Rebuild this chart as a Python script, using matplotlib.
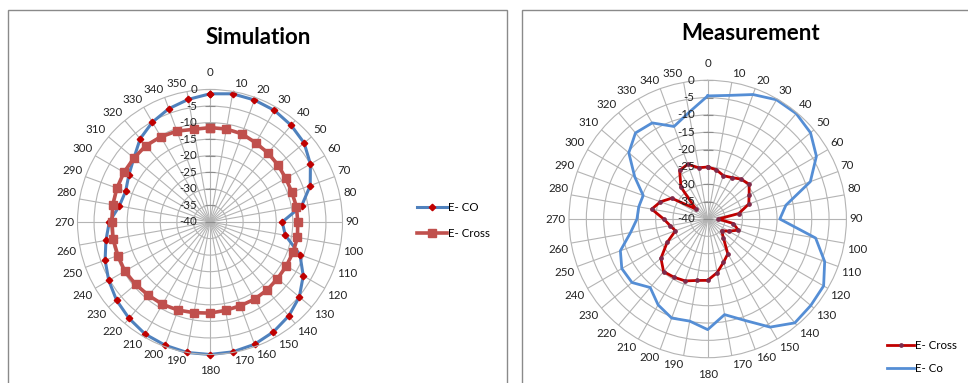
#!/usr/bin/env python3
"""Radiation patterns: simulation vs measurement (Excel-style radar charts)."""

import numpy as np
import matplotlib
matplotlib.use('Agg')
import matplotlib.pyplot as plt
from matplotlib.patches import Rectangle

plt.rcParams['font.family'] = ['Lato', 'DejaVu Sans']

# ---- data (dB), angles in degrees, clockwise from top ----
angles = np.arange(0, 360, 10)
ring_levels = [-40, -35, -30, -25, -20, -15, -10, -5, 0]

sim_e_co = [-1.3, -0.7, -0.8, -1.1, -1.9, -2.9, -5.0, -7.8, -11.9, -18.2,
            -16.9, -11.1, -7.5, -4.8, -3.0, -1.7, -0.7, -0.2, 0.0, 0.0,
            -0.4, -0.9, -2.0, -3.2, -4.7, -6.3, -8.1, -9.6, -12.2, -12.9,
            -11.7, -10.0, -7.2, -5.2, -3.6, -2.4]
sim_e_cross = [-11.5, -11.5, -11.7, -12.4, -12.8, -13.2, -13.6, -13.7, -13.5, -13.5,
               -13.2, -13.3, -13.4, -13.4, -13.2, -13.1, -13.1, -12.9, -12.5, -12.2,
               -11.7, -11.3, -11.1, -10.7, -10.3, -10.4, -10.3, -10.4, -10.2, -10.1,
               -10.0, -10.0, -9.9, -10.3, -10.8, -11.6]

meas_e_cross = [-25.0, -25.6, -26.7, -26.2, -25.0, -24.4, -26.2, -27.4, -30.9, -36.9,
                -32.5, -30.6, -33.0, -34.7, -33.0, -28.4, -26.7, -24.3, -22.3, -22.0,
                -21.0, -20.6, -20.2, -22.4, -26.5, -30.1, -29.0, -27.3, -23.6, -25.5,
                -28.0, -35.5, -28.0, -23.8, -23.2, -25.0]
meas_e_co = [-4.5, -3.8, -1.8, -0.3, -0.3, -1.3, -3.8, -8.5, -17.1, -19.2,
             -8.4, -4.1, -1.4, -1.2, -0.9, -4.0, -8.9, -12.0, -8.1, -10.1,
             -9.6, -11.4, -14.2, -11.5, -11.4, -13.2, -17.4, -19.6, -19.8, -20.2,
             -15.7, -10.3, -7.6, -8.0, -11.6, -8.8]

W, H = 968, 383
GRID = '#B4B4B4'
PT = 72 / 100  # points per pixel at dpi 100


def radar_axes(fig, cx, cy, R):
    ax = fig.add_axes([(cx - R) / W, (H - cy - R) / H, 2 * R / W, 2 * R / H],
                      projection='polar')
    ax.set_theta_zero_location('N')
    ax.set_theta_direction(-1)
    ax.set_ylim(ring_levels[0], ring_levels[-1])
    ax.set_yticks(ring_levels[1:-1])
    ax.set_xticks(np.deg2rad(angles))
    ax.set_xticklabels([])
    ax.set_yticklabels([])
    ax.grid(True, color=GRID, lw=0.8)
    ax.spines['polar'].set_color(GRID)
    ax.spines['polar'].set_linewidth(0.8)
    ax.patch.set_alpha(0)

    # value axis along the 0 deg spoke
    for v in ring_levels:
        ax.plot([0], [v], marker='_', ms=7, mew=0.8, color='#8C8C8C', clip_on=False)
        ax.annotate(str(v), xy=(0, v), xytext=(-13 * PT, 0), textcoords='offset points',
                    ha='right', va='center', fontsize=8.3, color='#222222')

    # category labels around the outside
    for a in angles:
        t = np.deg2rad(a)
        s, c = np.sin(t), np.cos(t)
        gap = 11 if abs(s) < 0.05 else 3
        ha = 'center' if abs(s) < 0.05 else ('left' if s > 0 else 'right')
        va = 'center' if abs(c) < 0.05 else ('bottom' if c > 0 else 'top')
        ax.annotate(str(a), xy=(t, 0), xytext=(gap * s * PT, gap * c * PT),
                    textcoords='offset points', ha=ha, va=va, fontsize=8.3,
                    color='#222222', annotation_clip=False)
    return ax


def closed(vals):
    th = np.deg2rad(np.append(angles, angles[0]))
    return th, np.append(vals, vals[0])


def main():
    fig = plt.figure(figsize=(W / 100, H / 100), dpi=100)

    # panel frames
    fig.add_artist(Rectangle((8 / W, -5 / H), 499 / W, (H - 10 + 5) / H,
                             transform=fig.transFigure, fill=False, ec='#8A8A8A', lw=1))
    fig.add_artist(Rectangle((522 / W, -5 / H), 460 / W, (H - 9.5 + 5) / H,
                             transform=fig.transFigure, fill=False, ec='#8A8A8A', lw=1))

    # ---- Simulation ----
    ax1 = radar_axes(fig, 210, 222, 132.5)
    th, r = closed(sim_e_co)
    l_co, = ax1.plot(th, r, color='#4F81BD', lw=2.2, marker='D', ms=3.3,
                     mfc='#C00000', mec='#C00000', label='E- CO', clip_on=False)
    th, r = closed(sim_e_cross)
    l_cr, = ax1.plot(th, r, color='#C0504D', lw=2.6, marker='s', ms=5.2,
                     mfc='#C0504D', mec='#C0504D', label='E- Cross', clip_on=False)
    fig.text(258 / W, 1 - 37 / H, 'Simulation', ha='center', va='center',
             fontsize=16, fontweight='bold')
    fig.legend([l_co, l_cr], ['E- CO', 'E- Cross'], loc='upper left',
               bbox_to_anchor=(416.7 / W, 1 - 202 / H), frameon=False, borderpad=0,
               borderaxespad=0, handlelength=2.6, handletextpad=0.1,
               labelspacing=1.3, fontsize=8.3, numpoints=1)

    # ---- Measurement ----
    ax2 = radar_axes(fig, 707.7, 219, 138.7)
    th, r = closed(meas_e_cross)
    m_cr, = ax2.plot(th, r, color='#C00000', lw=2.0, marker='o', ms=2.4,
                     mfc='#7E2A4A', mec='#7E2A4A', label='E- Cross', clip_on=False)
    th, r = closed(meas_e_co)
    m_co, = ax2.plot(th, r, color='#558ED5', lw=2.0, label='E- Co', clip_on=False)
    fig.text(750.7 / W, 1 - 33 / H, 'Measurement', ha='center', va='center',
             fontsize=16, fontweight='bold')
    fig.legend([m_cr, m_co], ['E- Cross', 'E- Co'], loc='upper left',
               bbox_to_anchor=(887.3 / W, 1 - 340 / H), frameon=False, borderpad=0,
               borderaxespad=0, handlelength=2.3, handletextpad=0.1,
               labelspacing=1.05, fontsize=8.3, numpoints=1)

    fig.savefig('out.png', dpi=100)
    plt.close(fig)
    print('Saved out.png')


if __name__ == '__main__':
    main()
